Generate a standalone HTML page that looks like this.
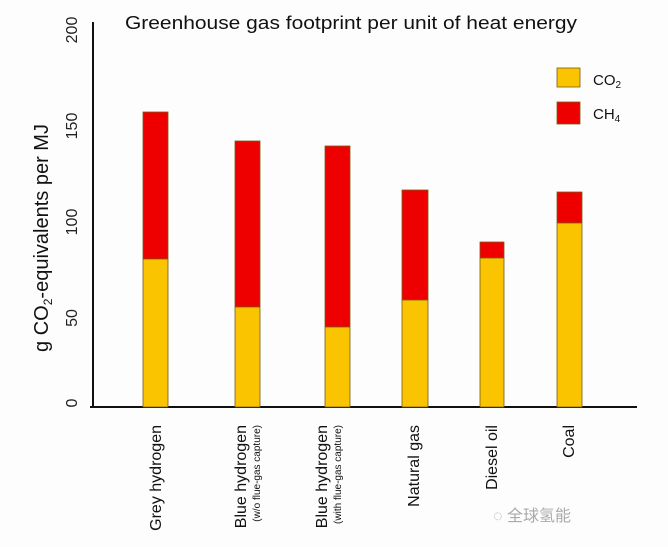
<!DOCTYPE html>
<html><head><style>
body{margin:0;background:#fff;}
svg{display:block;font-family:"Liberation Sans","Noto Sans CJK SC",sans-serif;}
</style></head><body>
<svg width="668" height="547" viewBox="0 0 668 547">
<rect width="668" height="547" fill="#fdfdfd"/>
<text x="125" y="29" font-size="18" fill="#111" textLength="452" lengthAdjust="spacingAndGlyphs">Greenhouse gas footprint per unit of heat energy</text>
<line x1="93" y1="22" x2="93" y2="408" stroke="#111" stroke-width="2"/>
<line x1="90" y1="407" x2="637" y2="407" stroke="#111" stroke-width="2"/>
<g font-size="16" fill="#222" text-anchor="middle">
<text transform="translate(77,30) rotate(-90)">200</text>
<text transform="translate(77,126) rotate(-90)">150</text>
<text transform="translate(77,222) rotate(-90)">100</text>
<text transform="translate(77,318) rotate(-90)">50</text>
<text transform="translate(77,403) rotate(-90)">0</text>
<text transform="translate(48,238) rotate(-90)" font-size="20" fill="#111">g CO<tspan font-size="12" dy="4">2</tspan><tspan dy="-4">-equivalents per MJ</tspan></text>
</g>
<g stroke="#7a5a10" stroke-width="0.8">
<rect x="143" y="112" width="25" height="147" fill="#ee0000"/><rect x="143" y="259" width="25" height="148" fill="#fbc400"/>
<rect x="235" y="141" width="25" height="166" fill="#ee0000"/><rect x="235" y="307" width="25" height="100" fill="#fbc400"/>
<rect x="325" y="146" width="25" height="181" fill="#ee0000"/><rect x="325" y="327" width="25" height="80" fill="#fbc400"/>
<rect x="402" y="190" width="26" height="110" fill="#ee0000"/><rect x="402" y="300" width="26" height="107" fill="#fbc400"/>
<rect x="480" y="242" width="24" height="16" fill="#ee0000"/><rect x="480" y="258" width="24" height="149" fill="#fbc400"/>
<rect x="557" y="192" width="25" height="31" fill="#ee0000"/><rect x="557" y="223" width="25" height="184" fill="#fbc400"/>
<rect x="557" y="68" width="23" height="19" fill="#fbc400"/>
<rect x="557" y="102" width="23" height="22" fill="#ee0000"/>
</g>
<text x="593" y="85" font-size="15" fill="#111">CO<tspan font-size="10" dy="3">2</tspan></text>
<text x="593" y="119" font-size="15" fill="#111">CH<tspan font-size="10" dy="3">4</tspan></text>
<g font-size="16" fill="#111" text-anchor="end">
<text transform="translate(161,425) rotate(-90)">Grey hydrogen</text>
<text transform="translate(246,425) rotate(-90)">Blue hydrogen</text>
<text transform="translate(260,425) rotate(-90)" font-size="10">(w/o flue-gas capture)</text>
<text transform="translate(327,425) rotate(-90)">Blue hydrogen</text>
<text transform="translate(341,425) rotate(-90)" font-size="10">(with flue-gas capture)</text>
<text transform="translate(419,425) rotate(-90)">Natural gas</text>
<text transform="translate(497,425) rotate(-90)">Diesel oil</text>
<text transform="translate(574,425) rotate(-90)">Coal</text>
</g>
<text x="493" y="521" font-size="16" fill="#aaa">◌ 全球氢能</text>
</svg>
</body></html>
